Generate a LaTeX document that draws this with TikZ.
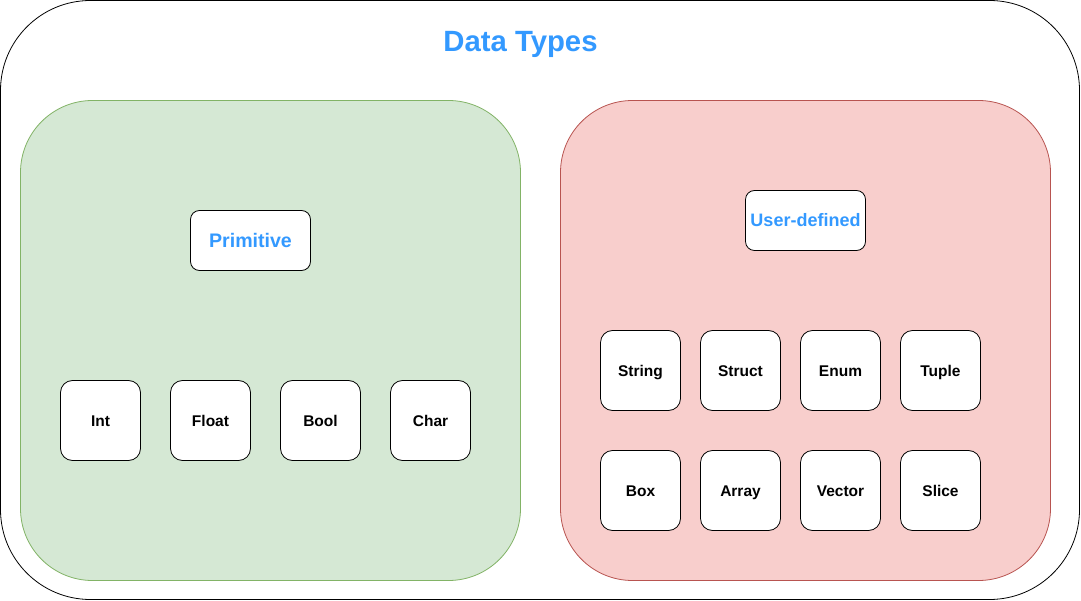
\documentclass[tikz,border=0pt]{standalone}
\usepackage{fontspec}
\setmainfont{Liberation Sans}
\definecolor{gfill}{HTML}{D5E8D4}
\definecolor{gline}{HTML}{82B366}
\definecolor{rfill}{HTML}{F8CECC}
\definecolor{rline}{HTML}{B85450}
\definecolor{bluetext}{HTML}{3399FF}
\begin{document}
\begin{tikzpicture}[x=1pt,y=-1pt,
  every node/.style={text depth=0pt},
  panel/.style={anchor=north west,inner sep=0pt,outer sep=0pt,line width=0.8pt},
  head/.style={anchor=north west,draw=black,fill=white,rounded corners=9pt,minimum width=120pt,minimum height=60pt,inner sep=0pt,outer sep=0pt,line width=0.8pt,text=bluetext},
  item/.style={anchor=north west,draw=black,fill=white,rounded corners=12pt,minimum width=80pt,minimum height=80pt,inner sep=0pt,outer sep=0pt,line width=0.8pt,text height=11.2pt,font=\fontsize{15.5}{18}\selectfont\bfseries}]
\useasboundingbox (0,0) rectangle (1081,601);
\node[panel,draw=black,fill=white,rounded corners=90pt,minimum width=1079pt,minimum height=599pt] (outer) at (0.5,0.5) {};
\node[font=\fontsize{29.3}{34}\selectfont\bfseries,text=bluetext,inner sep=0pt,text height=21.1pt] (title) at (520.5,40.5) {Data Types};
\node[panel,draw=gline,fill=gfill,rounded corners=72pt,minimum width=500pt,minimum height=480pt] (prim) at (20.5,100.5) {};
\node[panel,draw=rline,fill=rfill,rounded corners=72pt,minimum width=490pt,minimum height=480pt] (user) at (560.5,100.5) {};
\node[head,font=\fontsize{19.6}{22}\selectfont\bfseries,text height=14.1pt] (primh) at (190.5,210.5) {Primitive};
\node[head,font=\fontsize{18}{21}\selectfont\bfseries,text height=13pt] (userh) at (745.5,190.5) {User-defined};
\node[item] (int) at (60.5,380.5) {Int};
\node[item] (float) at (170.5,380.5) {Float};
\node[item] (bool) at (280.5,380.5) {Bool};
\node[item] (char) at (390.5,380.5) {Char};
\node[item] (string) at (600.5,330.5) {String};
\node[item] (struct) at (700.5,330.5) {Struct};
\node[item] (enum) at (800.5,330.5) {Enum};
\node[item] (tuple) at (900.5,330.5) {Tuple};
\node[item] (box) at (600.5,450.5) {Box};
\node[item] (array) at (700.5,450.5) {Array};
\node[item] (vector) at (800.5,450.5) {Vector};
\node[item] (slice) at (900.5,450.5) {Slice};
\end{tikzpicture}
\end{document}
